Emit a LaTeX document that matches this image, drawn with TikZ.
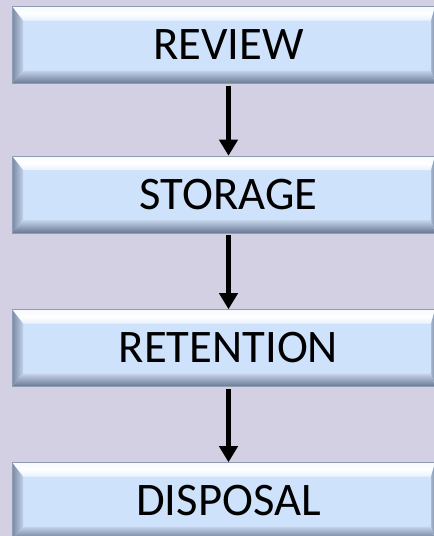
\documentclass[tikz,border=0pt]{standalone}
\usepackage{fontspec}
\setmainfont{Carlito}
\usetikzlibrary{arrows.meta,calc}
\def\pxu{0.75pt}
\definecolor{bgcol}{RGB}{211,208,228}
\definecolor{facecol}{RGB}{207,226,252}
\definecolor{edgecol}{RGB}{142,155,176}
\tikzset{
  bevelbox/.style={
    minimum width=423*\pxu, minimum height=77*\pxu, inner sep=0pt,
    fill=facecol, draw=edgecol, line width=0.4pt,
    path picture={
      \coordinate (bNW) at (path picture bounding box.north west);
      \coordinate (bNE) at (path picture bounding box.north east);
      \coordinate (bSW) at (path picture bounding box.south west);
      \coordinate (bSE) at (path picture bounding box.south east);
      % top bevel
      \shade[top color=white!80!facecol, bottom color=white!55!facecol, middle color=white]
        (bNW) -- (bNE) -- ($(bNE)+(-4,14)$) -- ($(bNW)+(11,14)$) -- cycle;
      % left bevel
      \shade[left color={rgb,255:red,120;green,136;blue,160}, right color={rgb,255:red,191;green,208;blue,232}]
        (bNW) -- ($(bNW)+(11,14)$) -- ($(bSW)+(11,-13)$) -- (bSW) -- cycle;
      % bottom bevel
      \shade[top color={rgb,255:red,196;green,212;blue,235}, bottom color={rgb,255:red,105;green,120;blue,146}]
        (bSW) -- ($(bSW)+(11,-13)$) -- ($(bSE)+(-4,-13)$) -- (bSE) -- cycle;
      % right bevel
      \shade[left color={rgb,255:red,169;green,186;blue,210}, right color={rgb,255:red,126;green,142;blue,166}]
        (bNE) -- ($(bNE)+(-4,14)$) -- ($(bSE)+(-4,-13)$) -- (bSE) -- cycle;
    }
  },
  boxtext/.style={label={[xshift=5*\pxu, font=\fontsize{35}{38}\selectfont, inner sep=0pt]center:#1}},
  flow/.style={line width=4.5*\pxu, -{Triangle[width=13.5pt,length=12pt]}}
}
\begin{document}
\begin{tikzpicture}[x=0.75pt, y=-0.75pt]
  \useasboundingbox (0,0) rectangle (434,536);
  \clip (0,0) rectangle (434,536);
  \fill[bgcol] (0,0) rectangle (434,536);

  \node[bevelbox, boxtext=REVIEW]    (review)    at (223.5,45)    {};
  \node[bevelbox, boxtext=STORAGE]   (storage)   at (223.5,194.5) {};
  \node[bevelbox, boxtext=RETENTION] (retention) at (223.5,348)   {};
  \node[bevelbox, boxtext=DISPOSAL]  (disposal)  at (223.5,501)   {};

  \draw[flow] ([xshift=5*\pxu, yshift=-2*\pxu]review.south)    -- ([xshift=5*\pxu]storage.north);
  \draw[flow] ([xshift=5*\pxu, yshift=-2*\pxu]storage.south)   -- ([xshift=5*\pxu]retention.north);
  \draw[flow] ([xshift=5*\pxu, yshift=-2*\pxu]retention.south) -- ([xshift=5*\pxu]disposal.north);
\end{tikzpicture}
\end{document}
